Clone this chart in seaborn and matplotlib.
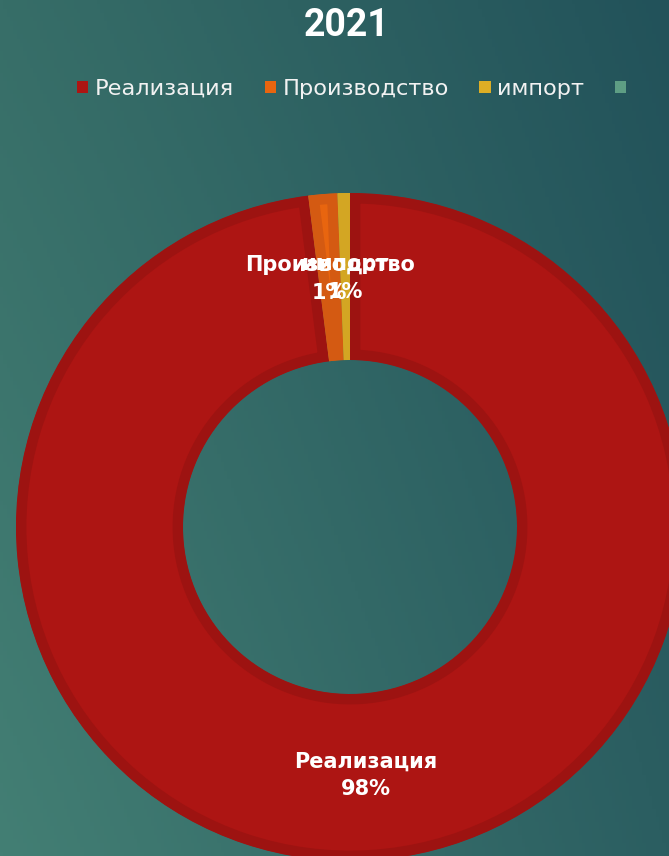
import numpy as np
import matplotlib
matplotlib.use("Agg")
import matplotlib.pyplot as plt
from matplotlib.patches import Patch
import seaborn as sns

# data
categories = ["Реализация", "Производство", "импорт", ""]
values = [98.0, 1.4, 0.6, 0.0]
fill_colors = ["#AD1513", "#E8650F", "#DDAE25", "#5E9E84"]
edge_colors = ["#9D1311", "#D45A12", "#D3A623", "#5E9E84"]
title = "2021"

sns.set_theme(style="white")
plt.rcParams['font.family'] = ['DejaVu Sans']
plt.rcParams['axes.unicode_minus'] = False

fig = plt.figure(figsize=(6.69, 8.56), dpi=100)

# gradient background
bg = fig.add_axes([0, 0, 1, 1])
tl = np.array(matplotlib.colors.to_rgb("#376E68"))
tr = np.array(matplotlib.colors.to_rgb("#22525A"))
bl = np.array(matplotlib.colors.to_rgb("#437F74"))
br = np.array(matplotlib.colors.to_rgb("#2B5E61"))
yy, xx = np.mgrid[0:1:200j, 0:1:200j]
grad = ((1 - xx)[..., None] * ((1 - yy)[..., None] * tl + yy[..., None] * bl)
        + xx[..., None] * ((1 - yy)[..., None] * tr + yy[..., None] * br))
bg.imshow(grad, aspect='auto', extent=[0, 1, 0, 1], origin='upper')
bg.axis('off')

# donut
W, H = 669, 856
cx, cy, r = 350, 527, 334
ax = fig.add_axes([(cx - r) / W, (H - cy - r) / H, 2 * r / W, 2 * r / H])

pie_vals = [v for v in values if v > 0]
pie_names = [c for c, v in zip(categories, values) if v > 0]
names_iter = iter(pie_names)

wedges, texts, autotexts = ax.pie(
    pie_vals, colors=fill_colors[:len(pie_vals)], startangle=90, counterclock=False,
    wedgeprops=dict(width=0.5, linewidth=15),
    autopct=lambda p: f"{next(names_iter)}\n{p:.0f}%", pctdistance=0.745,
    textprops=dict(color="white", fontsize=15, fontweight="bold", linespacing=1.5),
)
ax.set_xlim(-1, 1)
ax.set_ylim(-1, 1)
ax.axis('off')
for w, ec in zip(wedges, edge_colors):
    w.set_edgecolor(ec)
    # keep the stroke inside the wedge only
    w.set_clip_on(True)
    w.set_clip_path(w.get_path(), w.get_transform())

# legend
handles = [Patch(facecolor=c, edgecolor='none') for c in fill_colors]
fig.legend(handles, categories, loc='center', bbox_to_anchor=(355 / W, 1 - 89 / H),
           ncol=4, frameon=False, fontsize=16.2, labelcolor="#F2F2F2",
           handlelength=0.5, handleheight=0.5, handletextpad=0.3, columnspacing=1.35)

fig.text(347 / W, 1 - 26 / H, title, ha='center', va='center', color='white',
         fontsize=27, fontweight='bold', family=['Roboto', 'DejaVu Sans'])

fig.savefig("out.png", dpi=100)
